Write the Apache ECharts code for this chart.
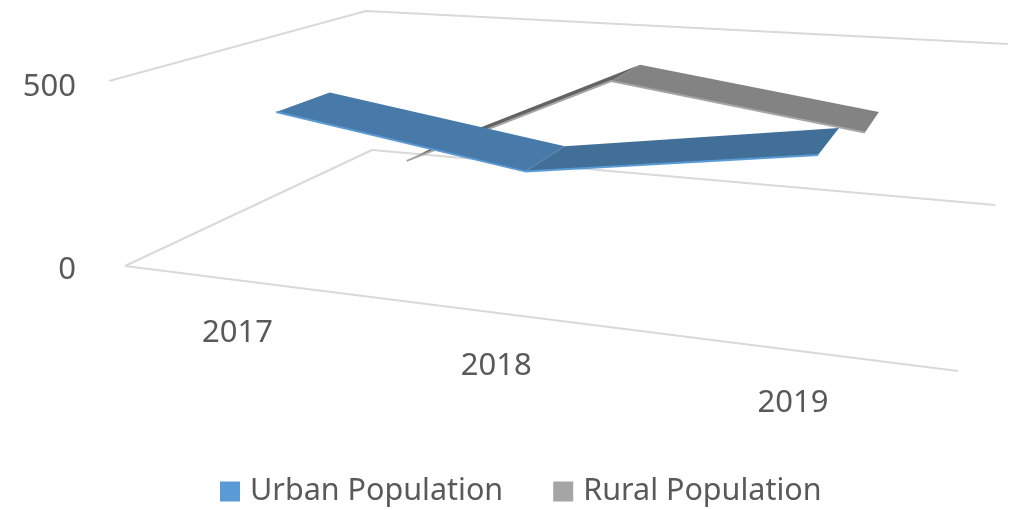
<!DOCTYPE html>
<html>
<head>
<meta charset="utf-8">
<script src="https://cdn.jsdelivr.net/npm/echarts@6/dist/echarts.min.js"></script>
<style>
html, body { margin: 0; background: #fff; }
#chartContainer { width: 1023px; height: 510px; }
</style>
</head>
<body>
<div id="chartContainer"></div>
<script>
// chart values
const categories = ['2017', '2018', '2019'];
const urbanPopulation = [403, 305, 418];
const ruralPopulation = [105, 407, 308];
const valueTicks = [0, 500];

const FONT = '"Noto Sans", sans-serif';

// Excel style 3D box: screen corners of the floor and of the 500 plane
// order: front-left, front-right, back-right, back-left
const floorMap = quadMap([[125, 266], [958, 371], [995, 205], [372, 150]]);
const topMap = quadMap([[109, 81], [974, 161], [1008, 44], [366, 11]]);
const CATEGORY_SHIFT = 0.015; // categories sit slightly right of the band centres

function quadMap(q) {
    const dx1 = q[1][0] - q[2][0], dx2 = q[3][0] - q[2][0], sx = q[0][0] - q[1][0] + q[2][0] - q[3][0];
    const dy1 = q[1][1] - q[2][1], dy2 = q[3][1] - q[2][1], sy = q[0][1] - q[1][1] + q[2][1] - q[3][1];
    const det = dx1 * dy2 - dx2 * dy1;
    const g = (sx * dy2 - dx2 * sy) / det;
    const h = (dx1 * sy - sx * dy1) / det;
    const a = q[1][0] - q[0][0] + g * q[1][0], b = q[3][0] - q[0][0] + h * q[3][0];
    const d = q[1][1] - q[0][1] + g * q[1][1], e = q[3][1] - q[0][1] + h * q[3][1];
    return (u, w) => {
        const t = g * u + h * w + 1;
        return [(a * u + b * w + q[0][0]) / t, (d * u + e * w + q[0][1]) / t];
    };
}

function boxPoint(u, w, v) {
    const low = floorMap(u, w), high = topMap(u, w);
    return [low[0] + (high[0] - low[0]) * v, low[1] + (high[1] - low[1]) * v];
}

// grid pixel from the axes -> screen pixel inside the 3D box
function project(params, api, index, value, depth) {
    const box = params.coordSys;
    const p = api.coord([index, value]);
    const u = (p[0] - box.x) / box.width + CATEGORY_SHIFT;
    const v = (box.y + box.height - p[1]) / box.height;
    return boxPoint(u, depth, v);
}

function gridLines(params, api) {
    const box = params.coordSys;
    const value = api.value(1);
    const v = (box.y + box.height - api.coord([0, value])[1]) / box.height;
    const line = (a, b) => ({ type: 'line', shape: { x1: a[0], y1: a[1], x2: b[0], y2: b[1] }, style: { stroke: '#d9d9d9', lineWidth: 2 } });
    const children = [line(boxPoint(0, 0, v), boxPoint(0, 1, v)), line(boxPoint(0, 1, v), boxPoint(1, 1, v))];
    if (value === 0) children.push(line(boxPoint(0, 0, v), boxPoint(1, 0, v)));
    return { type: 'group', children: children };
}

function ribbon(front, back, segmentColors, edgeColor) {
    return (params, api) => {
        const i = params.dataIndex;
        if (i >= categories.length - 1) return { type: 'group', children: [] };
        const a = project(params, api, i, api.value(1), front);
        const b = project(params, api, i + 1, api.value(2), front);
        const c = project(params, api, i + 1, api.value(2), back);
        const d = project(params, api, i, api.value(1), back);
        return {
            type: 'group',
            children: [
                { type: 'polygon', shape: { points: [a, b, c, d] }, style: { fill: segmentColors[i] } },
                { type: 'line', shape: { x1: a[0], y1: a[1], x2: b[0], y2: b[1] }, style: { stroke: edgeColor, lineWidth: 2 } }
            ]
        };
    };
}

function categoryLabels(params, api) {
    const p = project(params, api, params.dataIndex, 0, 0);
    return {
        type: 'text',
        style: { text: categories[params.dataIndex], x: p[0] - 15, y: p[1] + 51, align: 'center', verticalAlign: 'middle', font: '31px ' + FONT, fill: '#595959' }
    };
}

function lineData(values) {
    return values.map((v, i) => [i, v, i < values.length - 1 ? values[i + 1] : v]);
}

const myChart = echarts.init(document.getElementById('chartContainer'));
myChart.setOption({
    animation: false,
    grid: { left: 85, right: 30, top: 87, bottom: 240 },
    xAxis: { type: 'category', data: categories, show: false },
    yAxis: {
        type: 'value', min: 0, max: 500, interval: 500,
        axisLine: { show: false }, axisTick: { show: false }, splitLine: { show: false },
        axisLabel: { fontSize: 31, fontFamily: FONT, color: '#595959', margin: 9 }
    },
    legend: {
        data: [
            { name: 'Urban Population', icon: 'rect' },
            { name: 'Rural Population', icon: 'rect' }
        ],
        left: 215, top: 471, itemWidth: 20, itemHeight: 20, itemGap: 50,
        textStyle: { fontSize: 30.5, fontFamily: FONT, color: '#595959', padding: [0, 0, 0, 5] }
    },
    series: [
        { type: 'custom', silent: true, renderItem: gridLines, data: valueTicks.map(v => [0, v]) },
        { type: 'custom', silent: true, renderItem: categoryLabels, data: categories.map((c, i) => [i, 0]) },
        {
            name: 'Rural Population', type: 'custom', silent: true, itemStyle: { color: '#a5a5a5' },
            renderItem: ribbon(0.65, 0.85, ['#636363', '#838383'], '#a5a5a5'), data: lineData(ruralPopulation)
        },
        {
            name: 'Urban Population', type: 'custom', silent: true, itemStyle: { color: '#5b9bd5' },
            renderItem: ribbon(0.15, 0.35, ['#477aa8', '#426f97'], '#5b9bd5'), data: lineData(urbanPopulation)
        }
    ]
});
</script>
</body>
</html>
